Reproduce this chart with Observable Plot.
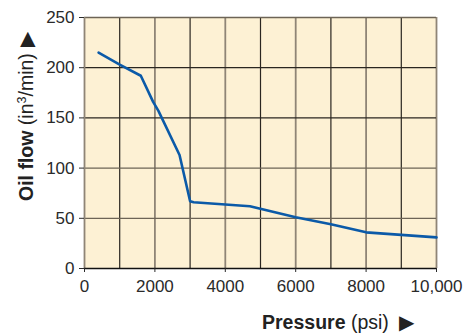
<!DOCTYPE html>
<html>
<head>
<meta charset="utf-8">
<script src="https://cdn.jsdelivr.net/npm/d3@7"></script>
<script src="https://cdn.jsdelivr.net/npm/@observablehq/plot@0.6"></script>
<style>
  html, body { margin: 0; padding: 0; background: #fff; }
  #chart { width: 467px; height: 333px; }
</style>
</head>
<body>
<div id="chart"></div>
<script>
const pressure = [400, 1000, 1600, 1950, 2100, 2700, 3000, 3100, 4700, 6000, 7000, 8000, 10000];
const flow = [215, 203, 192, 166, 157, 113, 67, 66, 62, 51, 44, 36, 31];
const xTicks = [0, 2000, 4000, 6000, 8000, 10000];
const xTickLabels = ["0", "2000", "4000", "6000", "8000", "10,000"];
const yTicks = [0, 50, 100, 150, 200, 250];
const xGrid = [1000, 2000, 3000, 4000, 5000, 6000, 7000, 8000, 9000, 10000];
const yGrid = [50, 100, 150, 200, 250];

const data = pressure.map((p, i) => ({p, f: flow[i]}));
const xg = xGrid.map(v => ({v, dark: (v / 1000) % 2 === 1}));
const yg = yGrid.map(v => ({v, dark: v === 150 || v === 200}));

const chart = Plot.plot({
  width: 467,
  height: 333,
  marginLeft: 84,
  marginRight: 31,
  marginTop: 17,
  marginBottom: 65,
  style: {fontFamily: "'Liberation Sans', Arial, sans-serif", fontSize: "17px", color: "#2a2a2a", background: "#fff"},
  x: {domain: [0, 10000]},
  y: {domain: [0, 250]},
  marks: [
    Plot.frame({fill: "#fdf1d4", stroke: null}),
    Plot.ruleX(xg, {x: "v", stroke: d => d.dark ? "#2a2620" : "#8f8576", strokeWidth: d => d.dark ? 1.2 : 1.8}),
    Plot.ruleY(yg, {y: "v", stroke: d => d.dark ? "#2a2620" : "#6d6456", strokeWidth: 1.3}),
    Plot.ruleX([0], {stroke: "#8f8576", strokeWidth: 1.8}),
    Plot.ruleY([0], {stroke: "#111", strokeWidth: 1.4}),
    Plot.axisX({ticks: xTicks, tickFormat: (d, i) => xTickLabels[i], tickSize: 4, tickPadding: 7, label: null, fontSize: 17}),
    Plot.axisY({ticks: yTicks, tickSize: 5, tickPadding: 5, label: null, fontSize: 17}),
    Plot.line(data, {x: "p", y: "f", stroke: "#0b5aa8", strokeWidth: 2.6, curve: "linear"})
  ]
});
document.getElementById("chart").appendChild(chart);

const svg = d3.select(chart);
// x axis label
const xl = svg.append("text")
  .attr("x", 262).attr("y", 329)
  .attr("text-anchor", "start")
  .attr("font-size", 19.5)
  .attr("fill", "#222")
  .attr("font-family", "'Liberation Sans', Arial, sans-serif");
xl.append("tspan").attr("font-weight", "bold").text("Pressure");
xl.append("tspan").text(" (psi)");
xl.append("tspan").attr("dx", 10).text("\u25B6");

// y axis label
const yl = svg.append("text")
  .attr("transform", "translate(33,201) rotate(-90)")
  .attr("text-anchor", "start")
  .attr("font-size", 19.5)
  .attr("fill", "#222")
  .attr("font-family", "'Liberation Sans', Arial, sans-serif");
yl.append("tspan").attr("font-weight", "bold").text("Oil flow");
yl.append("tspan").text(" (in");
yl.append("tspan").attr("font-size", 12.5).attr("dy", -7).text("3");
yl.append("tspan").attr("dy", 7).text("/min)");
yl.append("tspan").attr("dx", 6).text("\u25B6");
</script>
</body>
</html>
